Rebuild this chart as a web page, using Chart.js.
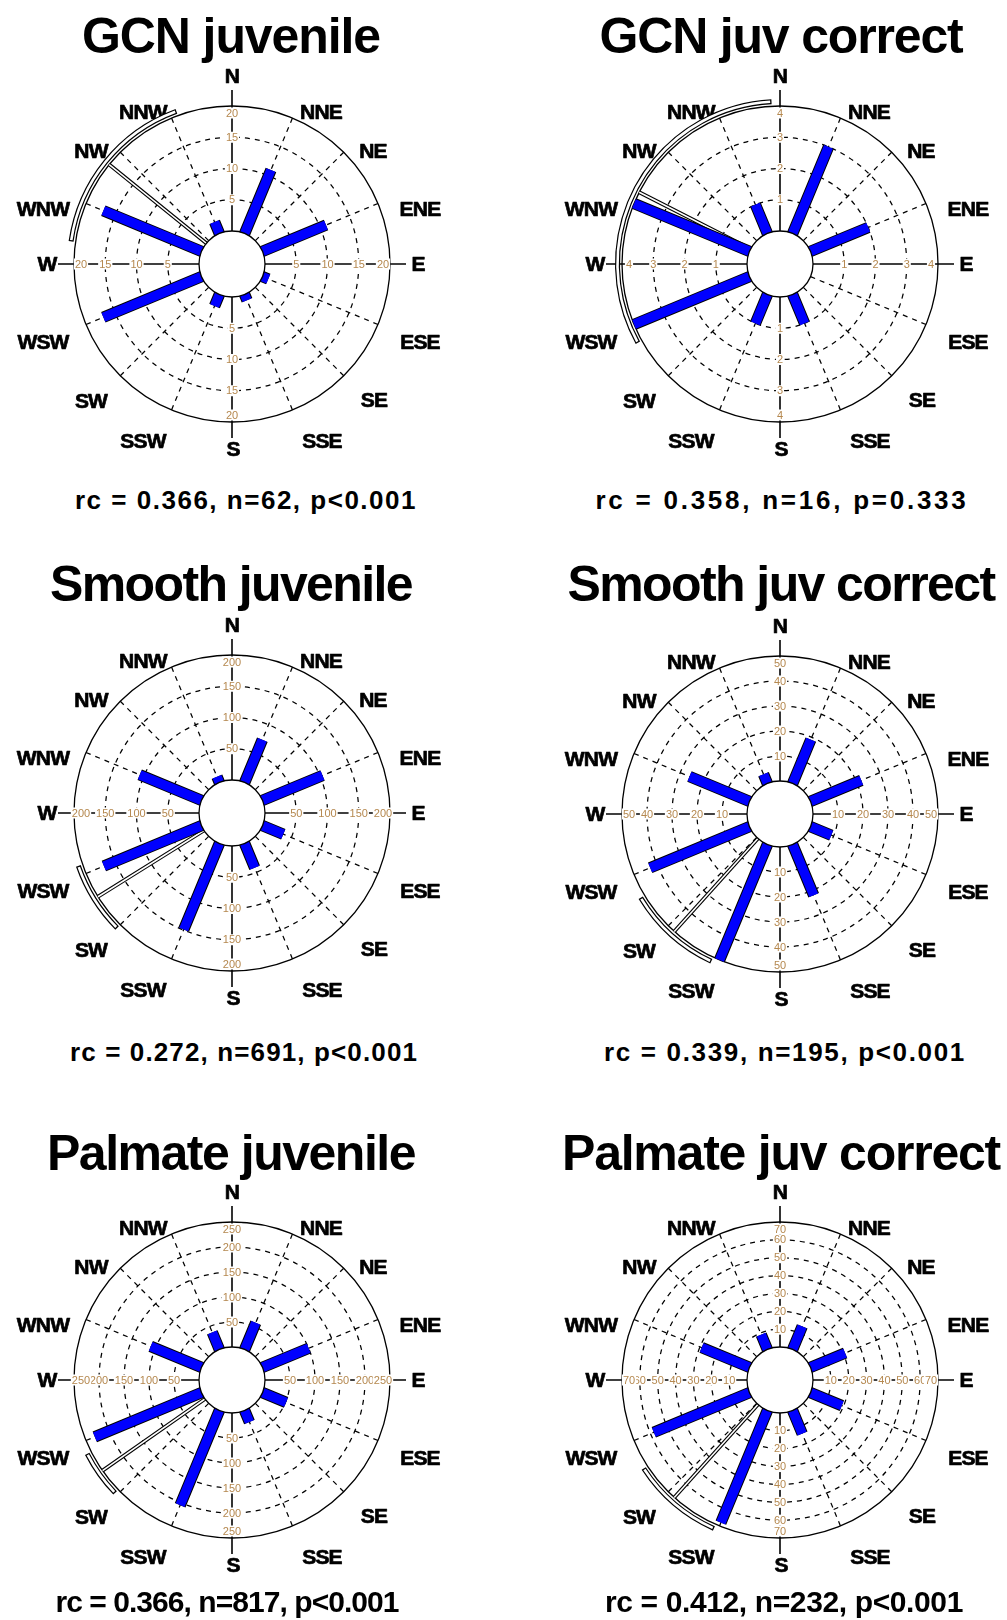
<!DOCTYPE html>
<html>
<head>
<meta charset="utf-8">
<title>Juvenile orientation rose diagrams</title>
<script src="https://cdn.jsdelivr.net/npm/chart.js@4.4.1/dist/chart.umd.min.js"></script>
<style>
  html, body { margin: 0; padding: 0; background: #fff; }
  body { position: relative; width: 1007px; height: 1620px; overflow: hidden; }
  canvas.rose { position: absolute; }
  .heading {
    position: absolute; white-space: nowrap; color: #000;
    font-weight: bold; line-height: 1;
  }
</style>
</head>
<body>
<script>
// Compass sectors, clockwise from north
const directions = ['N','NNE','NE','ENE','E','ESE','SE','SSE','S','SSW','SW','WSW','W','WNW','NW','NNW'];

// Counts per 22.5° sector (same order as directions)
const gcnJuvenile       = [0, 11, 0, 11, 0, 1, 0, 1, 0, 2, 0, 17, 0, 17, 0, 2];
const gcnJuvCorrect     = [0, 3, 0, 2, 0, 0, 0, 1, 0, 1, 0, 4, 0, 4, 0, 1];
const smoothJuvenile    = [0, 74, 0, 104, 0, 36, 0, 42, 0, 149, 0, 169, 0, 107, 0, 10];
const smoothJuvCorrect  = [0, 19, 0, 22, 0, 9, 0, 22, 0, 50, 0, 43, 0, 26, 0, 4];
const palmateJuvenile   = [0, 58, 0, 100, 0, 51, 0, 25, 0, 205, 0, 231, 0, 110, 0, 37];
const palmateJuvCorrect = [0, 14, 0, 21, 0, 19, 0, 14, 0, 68, 0, 58, 0, 29, 0, 9];

// Ring tick labels (last value = outer circle)
const gcnJuvenileTicks       = [5, 10, 15, 20];
const gcnJuvCorrectTicks     = [1, 2, 3, 4];
const smoothJuvenileTicks    = [50, 100, 150, 200];
const smoothJuvCorrectTicks  = [10, 20, 30, 40, 50];
const palmateJuvenileTicks   = [50, 100, 150, 200, 250];
const palmateJuvCorrectTicks = [10, 20, 30, 40, 50, 60, 70];

// Mean direction and its 95% confidence interval (degrees from north)
const meanDirection = [309, 297, 238, 222, 235, 222];
const ciLower       = [278, 241, 225, 205, 226, 204];
const ciUpper       = [340, 357, 251, 239, 243, 237];

const titles = ['GCN juvenile', 'GCN juv correct', 'Smooth juvenile', 'Smooth juv correct', 'Palmate juvenile', 'Palmate juv correct'];
const statLines = [
  'rc = 0.366, n=62, p<0.001',
  'rc = 0.358, n=16, p=0.333',
  'rc = 0.272, n=691, p<0.001',
  'rc = 0.339, n=195, p<0.001',
  'rc = 0.366, n=817, p<0.001',
  'rc = 0.412, n=232, p<0.001'
];

const panelCounts = [gcnJuvenile, gcnJuvCorrect, smoothJuvenile, smoothJuvCorrect, palmateJuvenile, palmateJuvCorrect];
const panelTicks  = [gcnJuvenileTicks, gcnJuvCorrectTicks, smoothJuvenileTicks, smoothJuvCorrectTicks, palmateJuvenileTicks, palmateJuvCorrectTicks];

// ---- layout ----
const centers = [[232, 264], [780, 264], [232, 813], [780, 814], [232, 1380], [780, 1380]];
const TEXT_FONT = '"Liberation Sans", Arial, sans-serif';
const titleX = [231, 781, 231, 781, 231, 781];
const titleBase = [53, 53, 601, 601, 1170, 1170];
const titleWidth = [298, 363, 362, 427, 368, 438];
const statX = [246, 782, 244, 785, 227, 784];
const statBase = [509, 509, 1061, 1061, 1612, 1612];
const statSize = [26, 26, 26, 26, 30, 30];
const statWidth = [342, 373, 348, 362, 343, 358];

const OUTER_PX = 158;            // outer circle radius in pixels
const HOLE_PX = 33;              // empty centre radius in pixels
const HALF = 220;                // half canvas size
const HOLE = HOLE_PX / OUTER_PX; // axis units: outer circle = 1
const SPAN = HALF / OUTER_PX;

// Direction label offsets from the centre (pixels)
const labelOffsets = [
  [0, -187], [89, -151], [141, -112], [188, -54], [186, 1], [188, 79], [142, 137], [90, 178],
  [1, 186], [-89, 178], [-141, 138], [-189, 79], [-185, 1], [-189, -54], [-141, -112], [-89, -151]
];

const TICK_COLOR = '#b5884f';
const BAR_BLUE = '#0000ff';

function ringRadius(v, max) { return HOLE + (1 - HOLE) * v / max; }
function polar(deg, rho) {
  const a = deg * Math.PI / 180;
  return { x: rho * Math.sin(a), y: rho * Math.cos(a) };
}

function roseFrame(ticks, lo, hi) {
  const max = ticks[ticks.length - 1];
  const geom = chart => {
    const xs = chart.scales.x, ys = chart.scales.y;
    const cx = xs.getPixelForValue(0), cy = ys.getPixelForValue(0);
    const len = u => xs.getPixelForValue(u) - cx;
    return { cx, cy, len, R: len(1), h: len(HOLE) };
  };
  return {
    id: 'roseFrame',
    beforeDatasetsDraw(chart) {
      const ctx = chart.ctx;
      const { cx, cy, len, R, h } = geom(chart);
      ctx.save();
      ctx.strokeStyle = '#000';
      ctx.lineWidth = 1.25;
      ctx.setLineDash([5, 5]);
      // dashed rings
      ticks.slice(0, -1).forEach(t => {
        ctx.beginPath();
        ctx.arc(cx, cy, len(ringRadius(t, max)), 0, Math.PI * 2);
        ctx.stroke();
      });
      // dashed spokes
      directions.forEach((d, i) => {
        if (i % 4 === 0) return;
        const a = (i * 22.5 - 90) * Math.PI / 180;
        ctx.beginPath();
        ctx.moveTo(cx + h * Math.cos(a), cy + h * Math.sin(a));
        ctx.lineTo(cx + R * Math.cos(a), cy + R * Math.sin(a));
        ctx.stroke();
      });
      ctx.setLineDash([]);
      // outer circle
      ctx.lineWidth = 1.3;
      ctx.beginPath();
      ctx.arc(cx, cy, R, 0, Math.PI * 2);
      ctx.stroke();
      // cardinal axes
      ctx.lineWidth = 1.6;
      for (let i = 0; i < 16; i += 4) {
        const a = (i * 22.5 - 90) * Math.PI / 180;
        ctx.beginPath();
        ctx.moveTo(cx + h * Math.cos(a), cy + h * Math.sin(a));
        ctx.lineTo(cx + (R + 16) * Math.cos(a), cy + (R + 16) * Math.sin(a));
        ctx.stroke();
      }
      // ring values along the four axes
      ctx.font = '11px "Liberation Sans", Arial, sans-serif';
      ctx.textAlign = 'center';
      ctx.textBaseline = 'middle';
      ticks.forEach(t => {
        const r = Math.min(len(ringRadius(t, max)), R - 7);
        const label = String(t);
        const w = ctx.measureText(label).width + 2;
        [[0, -1], [1, 0], [0, 1], [-1, 0]].forEach(([dx, dy]) => {
          const x = cx + dx * r, y = cy + dy * r;
          ctx.fillStyle = '#fff';
          ctx.fillRect(x - w / 2, y - 5.5, w, 11);
          ctx.fillStyle = TICK_COLOR;
          ctx.fillText(label, x, y + 0.5);
        });
      });
      // compass labels
      ctx.font = 'bold 21px "Liberation Sans", Arial, sans-serif';
      try { ctx.letterSpacing = '-0.8px'; } catch (e) {}
      ctx.fillStyle = '#000';
      ctx.strokeStyle = '#000';
      ctx.lineWidth = 0.7;
      ctx.lineJoin = 'round';
      directions.forEach((d, i) => {
        const [ox, oy] = labelOffsets[i];
        ctx.fillText(d, cx + ox, cy + oy);
        ctx.strokeText(d, cx + ox, cy + oy);
      });
      ctx.restore();
    },
    afterDatasetsDraw(chart) {
      const ctx = chart.ctx;
      const { cx, cy, R, h } = geom(chart);
      ctx.save();
      // empty centre
      ctx.fillStyle = '#fff';
      ctx.strokeStyle = '#000';
      ctx.lineWidth = 1.3;
      ctx.beginPath();
      ctx.arc(cx, cy, h, 0, Math.PI * 2);
      ctx.fill();
      ctx.stroke();
      // confidence interval arc (double line)
      const a0 = (lo - 90) * Math.PI / 180, a1 = (hi - 90) * Math.PI / 180;
      const rc = R + 4.5;
      ctx.lineWidth = 5;
      ctx.beginPath();
      ctx.arc(cx, cy, rc, a0, a1);
      ctx.stroke();
      ctx.strokeStyle = '#fff';
      ctx.lineWidth = 2.6;
      ctx.beginPath();
      ctx.arc(cx, cy, rc, a0 + 0.008, a1 - 0.008);
      ctx.stroke();
      ctx.restore();
    }
  };
}

function barPoints(counts, max) {
  const pts = [];
  counts.forEach((v, i) => {
    if (!v) return;
    pts.push(polar(i * 22.5, 0), polar(i * 22.5, ringRadius(v, max)), { x: null, y: null });
  });
  return pts;
}

// Spread or tighten letters so a text line spans the given width
const measurer = document.createElement('canvas').getContext('2d');
function spacingFor(text, font, width) {
  measurer.font = font;
  const natural = measurer.measureText(text).width;
  return (width - natural) / text.length;
}

function addText(text, size, centerX, baseline, width) {
  const el = document.createElement('div');
  el.className = 'heading';
  el.textContent = text;
  el.style.fontFamily = TEXT_FONT;
  el.style.fontSize = size + 'px';
  el.style.letterSpacing = spacingFor(text, 'bold ' + size + 'px ' + TEXT_FONT, width).toFixed(2) + 'px';
  el.style.left = centerX + 'px';
  el.style.top = (baseline - size * 0.8465) + 'px';
  el.style.transform = 'translateX(-50%)';
  document.body.appendChild(el);
}

for (let p = 0; p < 6; p++) {
  const [cx, cy] = centers[p];
  const canvas = document.createElement('canvas');
  canvas.className = 'rose';
  canvas.width = HALF * 2;
  canvas.height = HALF * 2;
  canvas.style.left = (cx - HALF) + 'px';
  canvas.style.top = (cy - HALF) + 'px';
  canvas.style.width = HALF * 2 + 'px';
  canvas.style.height = HALF * 2 + 'px';
  document.body.appendChild(canvas);

  const ticks = panelTicks[p];
  const max = ticks[ticks.length - 1];
  const bars = barPoints(panelCounts[p], max);
  const meanLine = [polar(meanDirection[p], 0), polar(meanDirection[p], 1)];
  const seg = { showLine: true, pointRadius: 0, tension: 0, borderCapStyle: 'butt', spanGaps: false, fill: false };

  new Chart(canvas, {
    type: 'scatter',
    data: {
      datasets: [
        Object.assign({ data: bars, borderColor: BAR_BLUE, borderWidth: 9.5, order: 0 }, seg),
        Object.assign({ data: bars, borderColor: '#000', borderWidth: 11.5, order: 1 }, seg),
        Object.assign({ data: meanLine, borderColor: '#fff', borderWidth: 1.6, order: 2 }, seg),
        Object.assign({ data: meanLine, borderColor: '#000', borderWidth: 3.8, order: 3 }, seg)
      ]
    },
    options: {
      responsive: false,
      animation: false,
      devicePixelRatio: 1,
      events: [],
      layout: { padding: 0 },
      plugins: { legend: { display: false }, tooltip: { enabled: false }, title: { display: false } },
      scales: {
        x: { type: 'linear', min: -SPAN, max: SPAN, display: false },
        y: { type: 'linear', min: -SPAN, max: SPAN, display: false }
      }
    },
    plugins: [roseFrame(ticks, ciLower[p], ciUpper[p])]
  });

  addText(titles[p], 50, titleX[p], titleBase[p], titleWidth[p]);
  addText(statLines[p], statSize[p], statX[p], statBase[p], statWidth[p]);
}
</script>
</body>
</html>
